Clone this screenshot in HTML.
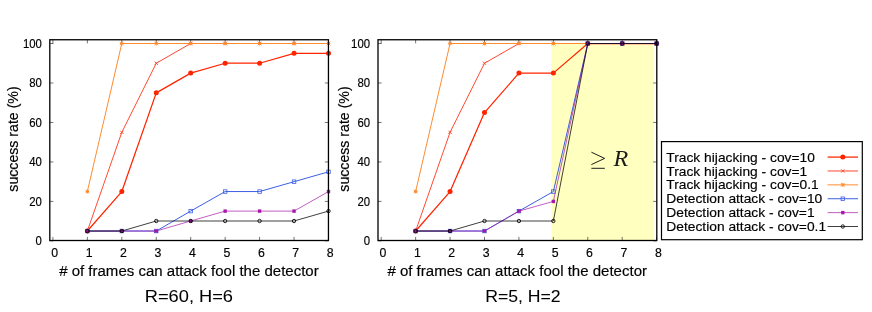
<!DOCTYPE html><html><head><meta charset="utf-8"><title>chart</title><style>html,body{margin:0;padding:0;background:#fff}svg{display:block;will-change:transform}text{font-family:"Liberation Sans",sans-serif;fill:#000;stroke:#000;stroke-width:0.16px}</style></head><body>
<svg width="872" height="312" viewBox="0 0 872 312">
<rect width="872" height="312" fill="#fff"/>
<path d="M52.90 240.50V236.90M52.90 39.75V43.35M87.35 240.50V236.90M87.35 39.75V43.35M121.80 240.50V236.90M121.80 39.75V43.35M156.25 240.50V236.90M156.25 39.75V43.35M190.70 240.50V236.90M190.70 39.75V43.35M225.15 240.50V236.90M225.15 39.75V43.35M259.60 240.50V236.90M259.60 39.75V43.35M294.05 240.50V236.90M294.05 39.75V43.35M328.50 240.50V236.90M328.50 39.75V43.35M49.80 240.90H53.40M328.45 240.90H324.85M49.80 201.42H53.40M328.45 201.42H324.85M49.80 161.94H53.40M328.45 161.94H324.85M49.80 122.46H53.40M328.45 122.46H324.85M49.80 82.98H53.40M328.45 82.98H324.85M49.80 43.50H53.40M328.45 43.50H324.85" stroke="#000" stroke-width="0.55" fill="none"/>
<polyline points="87.35,231.03 121.80,191.55 156.25,92.85 190.70,73.11 225.15,63.24 259.60,63.24 294.05,53.37 328.50,53.37" fill="none" stroke="#ff2400" stroke-width="1.25" stroke-linejoin="round"/>
<circle cx="87.35" cy="231.03" r="2.5" fill="#ff2400"/>
<circle cx="121.80" cy="191.55" r="2.5" fill="#ff2400"/>
<circle cx="156.25" cy="92.85" r="2.5" fill="#ff2400"/>
<circle cx="190.70" cy="73.11" r="2.5" fill="#ff2400"/>
<circle cx="225.15" cy="63.24" r="2.5" fill="#ff2400"/>
<circle cx="259.60" cy="63.24" r="2.5" fill="#ff2400"/>
<circle cx="294.05" cy="53.37" r="2.5" fill="#ff2400"/>
<circle cx="328.50" cy="53.37" r="2.5" fill="#ff2400"/>
<polyline points="87.35,231.03 121.80,132.33 156.25,63.24 190.70,43.50 225.15,43.50 259.60,43.50 294.05,43.50 328.50,43.50" fill="none" stroke="#ff4a30" stroke-width="1.0" stroke-linejoin="round"/>
<path d="M85.75 229.43L88.95 232.63M85.75 232.63L88.95 229.43" stroke="#ff4a30" stroke-width="1.0" fill="none"/>
<path d="M120.20 130.73L123.40 133.93M120.20 133.93L123.40 130.73" stroke="#ff4a30" stroke-width="1.0" fill="none"/>
<path d="M154.65 61.64L157.85 64.84M154.65 64.84L157.85 61.64" stroke="#ff4a30" stroke-width="1.0" fill="none"/>
<path d="M189.10 41.90L192.30 45.10M189.10 45.10L192.30 41.90" stroke="#ff4a30" stroke-width="1.0" fill="none"/>
<path d="M223.55 41.90L226.75 45.10M223.55 45.10L226.75 41.90" stroke="#ff4a30" stroke-width="1.0" fill="none"/>
<path d="M258.00 41.90L261.20 45.10M258.00 45.10L261.20 41.90" stroke="#ff4a30" stroke-width="1.0" fill="none"/>
<path d="M292.45 41.90L295.65 45.10M292.45 45.10L295.65 41.90" stroke="#ff4a30" stroke-width="1.0" fill="none"/>
<path d="M326.90 41.90L330.10 45.10M326.90 45.10L330.10 41.90" stroke="#ff4a30" stroke-width="1.0" fill="none"/>
<polyline points="87.35,191.55 121.80,43.50 156.25,43.50 190.70,43.50 225.15,43.50 259.60,43.50 294.05,43.50 328.50,43.50" fill="none" stroke="#ff8c30" stroke-width="1.0" stroke-linejoin="round"/>
<path d="M85.60 189.80L89.10 193.30M85.60 193.30L89.10 189.80M85.60 191.55L89.10 191.55M87.35 189.60L87.35 193.50" stroke="#ff8c30" stroke-width="1.0" fill="none"/>
<path d="M120.05 41.75L123.55 45.25M120.05 45.25L123.55 41.75M120.05 43.50L123.55 43.50M121.80 41.55L121.80 45.45" stroke="#ff8c30" stroke-width="1.0" fill="none"/>
<path d="M154.50 41.75L158.00 45.25M154.50 45.25L158.00 41.75M154.50 43.50L158.00 43.50M156.25 41.55L156.25 45.45" stroke="#ff8c30" stroke-width="1.0" fill="none"/>
<path d="M188.95 41.75L192.45 45.25M188.95 45.25L192.45 41.75M188.95 43.50L192.45 43.50M190.70 41.55L190.70 45.45" stroke="#ff8c30" stroke-width="1.0" fill="none"/>
<path d="M223.40 41.75L226.90 45.25M223.40 45.25L226.90 41.75M223.40 43.50L226.90 43.50M225.15 41.55L225.15 45.45" stroke="#ff8c30" stroke-width="1.0" fill="none"/>
<path d="M257.85 41.75L261.35 45.25M257.85 45.25L261.35 41.75M257.85 43.50L261.35 43.50M259.60 41.55L259.60 45.45" stroke="#ff8c30" stroke-width="1.0" fill="none"/>
<path d="M292.30 41.75L295.80 45.25M292.30 45.25L295.80 41.75M292.30 43.50L295.80 43.50M294.05 41.55L294.05 45.45" stroke="#ff8c30" stroke-width="1.0" fill="none"/>
<path d="M326.75 41.75L330.25 45.25M326.75 45.25L330.25 41.75M326.75 43.50L330.25 43.50M328.50 41.55L328.50 45.45" stroke="#ff8c30" stroke-width="1.0" fill="none"/>
<polyline points="87.35,231.03 121.80,231.03 156.25,231.03 190.70,211.10 225.15,191.55 259.60,191.55 294.05,181.68 328.50,171.81" fill="none" stroke="#3c5fe6" stroke-width="1.0" stroke-linejoin="round"/>
<rect x="85.60" y="229.28" width="3.5" height="3.5" stroke="#3c5fe6" stroke-width="0.8" fill="none"/>
<rect x="120.05" y="229.28" width="3.5" height="3.5" stroke="#3c5fe6" stroke-width="0.8" fill="none"/>
<rect x="154.50" y="229.28" width="3.5" height="3.5" stroke="#3c5fe6" stroke-width="0.8" fill="none"/>
<rect x="188.95" y="209.35" width="3.5" height="3.5" stroke="#3c5fe6" stroke-width="0.8" fill="none"/>
<rect x="223.40" y="189.80" width="3.5" height="3.5" stroke="#3c5fe6" stroke-width="0.8" fill="none"/>
<rect x="257.85" y="189.80" width="3.5" height="3.5" stroke="#3c5fe6" stroke-width="0.8" fill="none"/>
<rect x="292.30" y="179.93" width="3.5" height="3.5" stroke="#3c5fe6" stroke-width="0.8" fill="none"/>
<rect x="326.75" y="170.06" width="3.5" height="3.5" stroke="#3c5fe6" stroke-width="0.8" fill="none"/>
<polyline points="87.35,231.03 121.80,231.03 156.25,231.03 190.70,221.00 225.15,211.10 259.60,211.10 294.05,211.10 328.50,191.55" fill="none" stroke="#a818a8" stroke-width="0.7" stroke-linejoin="round"/>
<rect x="85.65" y="229.33" width="3.4" height="3.4" fill="#a818a8"/>
<rect x="120.10" y="229.33" width="3.4" height="3.4" fill="#a818a8"/>
<rect x="154.55" y="229.33" width="3.4" height="3.4" fill="#a818a8"/>
<rect x="189.00" y="219.30" width="3.4" height="3.4" fill="#a818a8"/>
<rect x="223.45" y="209.40" width="3.4" height="3.4" fill="#a818a8"/>
<rect x="257.90" y="209.40" width="3.4" height="3.4" fill="#a818a8"/>
<rect x="292.35" y="209.40" width="3.4" height="3.4" fill="#a818a8"/>
<rect x="326.80" y="189.85" width="3.4" height="3.4" fill="#a818a8"/>
<polyline points="87.35,231.03 121.80,231.03 156.25,221.00 190.70,221.00 225.15,221.00 259.60,221.00 294.05,221.00 328.50,211.10" fill="none" stroke="#000000" stroke-width="0.75" stroke-linejoin="round"/>
<circle cx="87.35" cy="231.03" r="1.7" stroke="#000000" stroke-width="0.85" fill="none"/>
<circle cx="121.80" cy="231.03" r="1.7" stroke="#000000" stroke-width="0.85" fill="none"/>
<circle cx="156.25" cy="221.00" r="1.7" stroke="#000000" stroke-width="0.85" fill="none"/>
<circle cx="190.70" cy="221.00" r="1.7" stroke="#000000" stroke-width="0.85" fill="none"/>
<circle cx="225.15" cy="221.00" r="1.7" stroke="#000000" stroke-width="0.85" fill="none"/>
<circle cx="259.60" cy="221.00" r="1.7" stroke="#000000" stroke-width="0.85" fill="none"/>
<circle cx="294.05" cy="221.00" r="1.7" stroke="#000000" stroke-width="0.85" fill="none"/>
<circle cx="328.50" cy="211.10" r="1.7" stroke="#000000" stroke-width="0.85" fill="none"/>
<rect x="49.80" y="39.75" width="278.65" height="200.75" fill="none" stroke="#000" stroke-width="1.3"/>
<text x="54.60" y="256.8" font-size="12.3" text-anchor="middle">0</text>
<text x="89.05" y="256.8" font-size="12.3" text-anchor="middle">1</text>
<text x="123.50" y="256.8" font-size="12.3" text-anchor="middle">2</text>
<text x="157.95" y="256.8" font-size="12.3" text-anchor="middle">3</text>
<text x="192.40" y="256.8" font-size="12.3" text-anchor="middle">4</text>
<text x="226.85" y="256.8" font-size="12.3" text-anchor="middle">5</text>
<text x="261.30" y="256.8" font-size="12.3" text-anchor="middle">6</text>
<text x="295.75" y="256.8" font-size="12.3" text-anchor="middle">7</text>
<text x="330.20" y="256.8" font-size="12.3" text-anchor="middle">8</text>
<text transform="translate(41.90,245.15) scale(0.94,1)" font-size="12.1" text-anchor="end">0</text>
<text transform="translate(41.90,205.67) scale(0.94,1)" font-size="12.1" text-anchor="end">20</text>
<text transform="translate(41.90,166.19) scale(0.94,1)" font-size="12.1" text-anchor="end">40</text>
<text transform="translate(41.90,126.71) scale(0.94,1)" font-size="12.1" text-anchor="end">60</text>
<text transform="translate(41.90,87.23) scale(0.94,1)" font-size="12.1" text-anchor="end">80</text>
<text transform="translate(41.90,47.75) scale(0.94,1)" font-size="12.1" text-anchor="end">100</text>
<text transform="translate(188.93,275.70) scale(1.051,1)" font-size="14.3" text-anchor="middle"># of frames can attack fool the detector</text>
<text transform="translate(188.90,301.50) scale(1.055,1)" font-size="17.3" text-anchor="middle" style="stroke-width:0.05px">R=60, H=6</text>
<text transform="translate(17.80,139.0) rotate(-90)" font-size="14.15" text-anchor="middle">success rate (%)</text>
<rect x="551.45" y="43.50" width="102.75" height="197.00" fill="#ffffc0"/>
<path d="M381.20 240.50V236.90M381.20 39.75V43.35M415.63 240.50V236.90M415.63 39.75V43.35M450.06 240.50V236.90M450.06 39.75V43.35M484.49 240.50V236.90M484.49 39.75V43.35M518.92 240.50V236.90M518.92 39.75V43.35M553.35 240.50V236.90M553.35 39.75V43.35M587.78 240.50V236.90M587.78 39.75V43.35M622.21 240.50V236.90M622.21 39.75V43.35M656.64 240.50V236.90M656.64 39.75V43.35M378.00 240.90H381.60M656.80 240.90H653.20M378.00 201.42H381.60M656.80 201.42H653.20M378.00 161.94H381.60M656.80 161.94H653.20M378.00 122.46H381.60M656.80 122.46H653.20M378.00 82.98H381.60M656.80 82.98H653.20M378.00 43.50H381.60M656.80 43.50H653.20" stroke="#000" stroke-width="0.55" fill="none"/>
<path d="M591.4 152.2L604.6 158.4L591.4 164.6M591.4 168.3H604.8" stroke="#111" stroke-width="0.95" fill="none" stroke-linejoin="miter"/>
<text transform="translate(613.6,166.2) scale(1.08,1)" style="font-family:'Liberation Serif',serif;font-style:italic;stroke:none;fill:#1c1c1c" font-size="22.3">R</text>
<polyline points="415.63,231.03 450.06,191.55 484.49,112.59 518.92,73.11 553.35,73.11 587.78,43.50 622.21,43.50 656.64,43.50" fill="none" stroke="#ff2400" stroke-width="1.25" stroke-linejoin="round"/>
<circle cx="415.63" cy="231.03" r="2.5" fill="#ff2400"/>
<circle cx="450.06" cy="191.55" r="2.5" fill="#ff2400"/>
<circle cx="484.49" cy="112.59" r="2.5" fill="#ff2400"/>
<circle cx="518.92" cy="73.11" r="2.5" fill="#ff2400"/>
<circle cx="553.35" cy="73.11" r="2.5" fill="#ff2400"/>
<circle cx="587.78" cy="43.50" r="2.5" fill="#ff2400"/>
<circle cx="622.21" cy="43.50" r="2.5" fill="#ff2400"/>
<circle cx="656.64" cy="43.50" r="2.5" fill="#ff2400"/>
<polyline points="415.63,231.03 450.06,132.33 484.49,63.24 518.92,43.50 553.35,43.50 587.78,43.50 622.21,43.50 656.64,43.50" fill="none" stroke="#ff4a30" stroke-width="1.0" stroke-linejoin="round"/>
<path d="M414.03 229.43L417.23 232.63M414.03 232.63L417.23 229.43" stroke="#ff4a30" stroke-width="1.0" fill="none"/>
<path d="M448.46 130.73L451.66 133.93M448.46 133.93L451.66 130.73" stroke="#ff4a30" stroke-width="1.0" fill="none"/>
<path d="M482.89 61.64L486.09 64.84M482.89 64.84L486.09 61.64" stroke="#ff4a30" stroke-width="1.0" fill="none"/>
<path d="M517.32 41.90L520.52 45.10M517.32 45.10L520.52 41.90" stroke="#ff4a30" stroke-width="1.0" fill="none"/>
<path d="M551.75 41.90L554.95 45.10M551.75 45.10L554.95 41.90" stroke="#ff4a30" stroke-width="1.0" fill="none"/>
<path d="M586.18 41.90L589.38 45.10M586.18 45.10L589.38 41.90" stroke="#ff4a30" stroke-width="1.0" fill="none"/>
<path d="M620.61 41.90L623.81 45.10M620.61 45.10L623.81 41.90" stroke="#ff4a30" stroke-width="1.0" fill="none"/>
<path d="M655.04 41.90L658.24 45.10M655.04 45.10L658.24 41.90" stroke="#ff4a30" stroke-width="1.0" fill="none"/>
<polyline points="415.63,191.55 450.06,43.50 484.49,43.50 518.92,43.50 553.35,43.50 587.78,43.50 622.21,43.50 656.64,43.50" fill="none" stroke="#ff8c30" stroke-width="1.0" stroke-linejoin="round"/>
<path d="M413.88 189.80L417.38 193.30M413.88 193.30L417.38 189.80M413.88 191.55L417.38 191.55M415.63 189.60L415.63 193.50" stroke="#ff8c30" stroke-width="1.0" fill="none"/>
<path d="M448.31 41.75L451.81 45.25M448.31 45.25L451.81 41.75M448.31 43.50L451.81 43.50M450.06 41.55L450.06 45.45" stroke="#ff8c30" stroke-width="1.0" fill="none"/>
<path d="M482.74 41.75L486.24 45.25M482.74 45.25L486.24 41.75M482.74 43.50L486.24 43.50M484.49 41.55L484.49 45.45" stroke="#ff8c30" stroke-width="1.0" fill="none"/>
<path d="M517.17 41.75L520.67 45.25M517.17 45.25L520.67 41.75M517.17 43.50L520.67 43.50M518.92 41.55L518.92 45.45" stroke="#ff8c30" stroke-width="1.0" fill="none"/>
<path d="M551.60 41.75L555.10 45.25M551.60 45.25L555.10 41.75M551.60 43.50L555.10 43.50M553.35 41.55L553.35 45.45" stroke="#ff8c30" stroke-width="1.0" fill="none"/>
<path d="M586.03 41.75L589.53 45.25M586.03 45.25L589.53 41.75M586.03 43.50L589.53 43.50M587.78 41.55L587.78 45.45" stroke="#ff8c30" stroke-width="1.0" fill="none"/>
<path d="M620.46 41.75L623.96 45.25M620.46 45.25L623.96 41.75M620.46 43.50L623.96 43.50M622.21 41.55L622.21 45.45" stroke="#ff8c30" stroke-width="1.0" fill="none"/>
<path d="M654.89 41.75L658.39 45.25M654.89 45.25L658.39 41.75M654.89 43.50L658.39 43.50M656.64 41.55L656.64 45.45" stroke="#ff8c30" stroke-width="1.0" fill="none"/>
<polyline points="415.63,231.03 450.06,231.03 484.49,231.03 518.92,211.10 553.35,191.55 587.78,43.50 622.21,43.50 656.64,43.50" fill="none" stroke="#3c5fe6" stroke-width="1.0" stroke-linejoin="round"/>
<rect x="413.88" y="229.28" width="3.5" height="3.5" stroke="#3c5fe6" stroke-width="0.8" fill="none"/>
<rect x="448.31" y="229.28" width="3.5" height="3.5" stroke="#3c5fe6" stroke-width="0.8" fill="none"/>
<rect x="482.74" y="229.28" width="3.5" height="3.5" stroke="#3c5fe6" stroke-width="0.8" fill="none"/>
<rect x="517.17" y="209.35" width="3.5" height="3.5" stroke="#3c5fe6" stroke-width="0.8" fill="none"/>
<rect x="551.60" y="189.80" width="3.5" height="3.5" stroke="#3c5fe6" stroke-width="0.8" fill="none"/>
<rect x="586.03" y="41.75" width="3.5" height="3.5" stroke="#3c5fe6" stroke-width="0.8" fill="none"/>
<rect x="620.46" y="41.75" width="3.5" height="3.5" stroke="#3c5fe6" stroke-width="0.8" fill="none"/>
<rect x="654.89" y="41.75" width="3.5" height="3.5" stroke="#3c5fe6" stroke-width="0.8" fill="none"/>
<polyline points="415.63,231.03 450.06,231.03 484.49,231.03 518.92,211.10 553.35,201.42 587.78,43.50 622.21,43.50 656.64,43.50" fill="none" stroke="#a818a8" stroke-width="0.7" stroke-linejoin="round"/>
<rect x="413.93" y="229.33" width="3.4" height="3.4" fill="#a818a8"/>
<rect x="448.36" y="229.33" width="3.4" height="3.4" fill="#a818a8"/>
<rect x="482.79" y="229.33" width="3.4" height="3.4" fill="#a818a8"/>
<rect x="517.22" y="209.40" width="3.4" height="3.4" fill="#a818a8"/>
<rect x="551.65" y="199.72" width="3.4" height="3.4" fill="#a818a8"/>
<rect x="586.08" y="41.80" width="3.4" height="3.4" fill="#a818a8"/>
<rect x="620.51" y="41.80" width="3.4" height="3.4" fill="#a818a8"/>
<rect x="654.94" y="41.80" width="3.4" height="3.4" fill="#a818a8"/>
<polyline points="415.63,231.03 450.06,231.03 484.49,221.00 518.92,221.00 553.35,221.00 587.78,43.50 622.21,43.50 656.64,43.50" fill="none" stroke="#000000" stroke-width="0.75" stroke-linejoin="round"/>
<circle cx="415.63" cy="231.03" r="1.7" stroke="#000000" stroke-width="0.85" fill="none"/>
<circle cx="450.06" cy="231.03" r="1.7" stroke="#000000" stroke-width="0.85" fill="none"/>
<circle cx="484.49" cy="221.00" r="1.7" stroke="#000000" stroke-width="0.85" fill="none"/>
<circle cx="518.92" cy="221.00" r="1.7" stroke="#000000" stroke-width="0.85" fill="none"/>
<circle cx="553.35" cy="221.00" r="1.7" stroke="#000000" stroke-width="0.85" fill="none"/>
<circle cx="587.78" cy="43.50" r="1.7" stroke="#000000" stroke-width="0.85" fill="none"/>
<circle cx="622.21" cy="43.50" r="1.7" stroke="#000000" stroke-width="0.85" fill="none"/>
<circle cx="656.64" cy="43.50" r="1.7" stroke="#000000" stroke-width="0.85" fill="none"/>
<rect x="378.00" y="39.75" width="278.80" height="200.75" fill="none" stroke="#000" stroke-width="1.3"/>
<text x="382.90" y="256.8" font-size="12.3" text-anchor="middle">0</text>
<text x="417.33" y="256.8" font-size="12.3" text-anchor="middle">1</text>
<text x="451.76" y="256.8" font-size="12.3" text-anchor="middle">2</text>
<text x="486.19" y="256.8" font-size="12.3" text-anchor="middle">3</text>
<text x="520.62" y="256.8" font-size="12.3" text-anchor="middle">4</text>
<text x="555.05" y="256.8" font-size="12.3" text-anchor="middle">5</text>
<text x="589.48" y="256.8" font-size="12.3" text-anchor="middle">6</text>
<text x="623.91" y="256.8" font-size="12.3" text-anchor="middle">7</text>
<text x="658.34" y="256.8" font-size="12.3" text-anchor="middle">8</text>
<text transform="translate(370.10,245.15) scale(0.94,1)" font-size="12.1" text-anchor="end">0</text>
<text transform="translate(370.10,205.67) scale(0.94,1)" font-size="12.1" text-anchor="end">20</text>
<text transform="translate(370.10,166.19) scale(0.94,1)" font-size="12.1" text-anchor="end">40</text>
<text transform="translate(370.10,126.71) scale(0.94,1)" font-size="12.1" text-anchor="end">60</text>
<text transform="translate(370.10,87.23) scale(0.94,1)" font-size="12.1" text-anchor="end">80</text>
<text transform="translate(370.10,47.75) scale(0.94,1)" font-size="12.1" text-anchor="end">100</text>
<text transform="translate(517.20,275.70) scale(1.051,1)" font-size="14.3" text-anchor="middle"># of frames can attack fool the detector</text>
<text transform="translate(522.90,301.50) scale(1.02,1)" font-size="17.3" text-anchor="middle" style="stroke-width:0.05px">R=5, H=2</text>
<text transform="translate(349.00,139.0) rotate(-90)" font-size="14.15" text-anchor="middle">success rate (%)</text>
<rect x="661.5" y="141.6" width="200.8" height="98.1" fill="#fff" stroke="#000" stroke-width="1.2"/>
<text transform="translate(666.30,161.70) scale(1.062,1)" font-size="13" text-anchor="start">Track hijacking - cov=10</text>
<path d="M827.6 157.10H858" stroke="#ff2400" stroke-width="1.25" fill="none"/>
<circle cx="842.80" cy="157.10" r="2.5" fill="#ff2400"/>
<text transform="translate(666.30,175.58) scale(1.062,1)" font-size="13" text-anchor="start">Track hijacking - cov=1</text>
<path d="M827.6 170.98H858" stroke="#ff4a30" stroke-width="1.0" fill="none"/>
<path d="M841.20 169.38L844.40 172.58M841.20 172.58L844.40 169.38" stroke="#ff4a30" stroke-width="1.0" fill="none"/>
<text transform="translate(666.30,189.46) scale(1.062,1)" font-size="13" text-anchor="start">Track hijacking - cov=0.1</text>
<path d="M827.6 184.86H858" stroke="#ff8c30" stroke-width="1.0" fill="none"/>
<path d="M841.05 183.11L844.55 186.61M841.05 186.61L844.55 183.11M841.05 184.86L844.55 184.86M842.80 182.91L842.80 186.81" stroke="#ff8c30" stroke-width="1.0" fill="none"/>
<text transform="translate(666.30,203.34) scale(1.062,1)" font-size="13" text-anchor="start">Detection attack - cov=10</text>
<path d="M827.6 198.74H858" stroke="#3c5fe6" stroke-width="1.0" fill="none"/>
<rect x="841.05" y="196.99" width="3.5" height="3.5" stroke="#3c5fe6" stroke-width="0.8" fill="none"/>
<text transform="translate(666.30,217.22) scale(1.062,1)" font-size="13" text-anchor="start">Detection attack - cov=1</text>
<path d="M827.6 212.62H858" stroke="#a818a8" stroke-width="0.7" fill="none"/>
<rect x="841.10" y="210.92" width="3.4" height="3.4" fill="#a818a8"/>
<text transform="translate(666.30,231.10) scale(1.062,1)" font-size="13" text-anchor="start">Detection attack - cov=0.1</text>
<path d="M827.6 226.50H858" stroke="#000000" stroke-width="0.75" fill="none"/>
<circle cx="842.80" cy="226.50" r="1.7" stroke="#000000" stroke-width="0.85" fill="none"/>
</svg></body></html>
